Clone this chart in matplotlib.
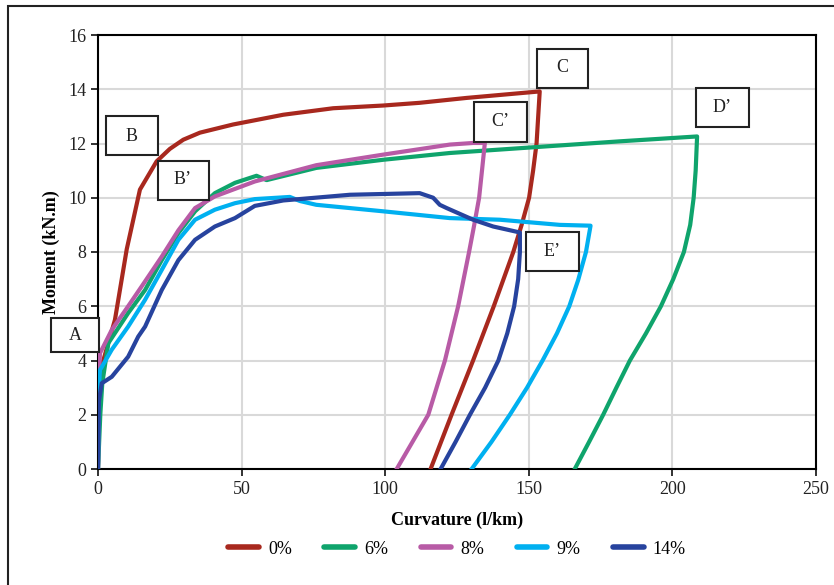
import matplotlib.pyplot as plt
from matplotlib.patches import Rectangle

plt.rcParams['font.family'] = ['Liberation Serif', 'DejaVu Serif']

# moment-curvature curves (curvature 1/km, moment kN.m)
x_0 = [0, 0.5, 1.3, 5.9, 10, 14.6, 20.4, 25, 29.7, 35.5, 47, 64.5, 81.9, 99.3, 112, 128.3, 153.8,
       152.7, 151.5, 150.1, 147.5, 144.6, 137.8, 130.6, 123.1, 115.8]
y_0 = [0, 3.0, 3.8, 5.5, 8.1, 10.3, 11.34, 11.8, 12.14, 12.4, 12.7, 13.06, 13.3, 13.4, 13.5, 13.68, 13.92,
       12.0, 11.0, 10.0, 9.0, 8.0, 6.0, 4.0, 2.0, 0]

x_6 = [0, 0.8, 1.5, 3.6, 10.5, 16.4, 22.2, 28, 33.8, 40.7, 47.7, 54.6, 55.2, 58.7, 76, 99.3, 122.5, 181.7, 208.6,
       208.1, 207.4, 206.2, 204, 200.3, 196, 190.8, 185.2, 180.5, 175.9, 171, 166]
y_6 = [0, 2.0, 3.17, 4.64, 5.75, 6.6, 7.7, 8.7, 9.5, 10.17, 10.55, 10.79, 10.81, 10.65, 11.1, 11.4, 11.65, 12.08, 12.26,
       11.0, 10.0, 9.0, 8.0, 7.0, 6.0, 5.0, 4.0, 3.0, 2.0, 1.0, 0]

x_8 = [0, 0.3, 0.7, 4.8, 10.5, 15.2, 22.2, 28, 33.8, 40.7, 54.6, 76, 99.3, 122.5, 130.6, 134.7,
       133.7, 132.7, 131, 129.2, 125.4, 120.8, 115, 109.5, 104]
y_8 = [0, 3.5, 4.27, 5.13, 6.0, 6.73, 7.83, 8.8, 9.62, 10.05, 10.6, 11.2, 11.59, 11.96, 12.02, 12.02,
       11.0, 10.0, 9.0, 8.0, 6.0, 4.0, 2.0, 1.0, 0]

x_9 = [0, 0.3, 0.7, 4.8, 10.5, 16.4, 22.2, 28, 33.8, 40.7, 47.7, 54.6, 66.8, 70.3, 76, 99.3, 122.5, 139.9, 160.8, 171.5,
       169.9, 167.2, 164.1, 159.8, 154.8, 149.4, 143.4, 137, 130.1]
y_9 = [0, 3.0, 3.65, 4.4, 5.25, 6.24, 7.34, 8.45, 9.19, 9.56, 9.8, 9.95, 10.03, 9.88, 9.74, 9.5, 9.25, 9.19, 9.0, 8.97,
       8.0, 6.97, 6.0, 5.0, 4.0, 3.0, 2.0, 1.0, 0]

x_14 = [0, 0.3, 1.3, 4.8, 10.5, 14, 16.4, 22.2, 28, 33.8, 40.7, 47.7, 54.6, 64.5, 87.7, 112, 116.7, 119, 121.4, 130.6,
        137.6, 146.9, 146.9, 146.3, 144.9, 142.5, 139.4, 134.8, 129.5, 124.5, 119.3]
y_14 = [0, 2.5, 3.16, 3.4, 4.14, 4.88, 5.25, 6.6, 7.7, 8.45, 8.94, 9.25, 9.7, 9.9, 10.11, 10.17, 10.0, 9.74, 9.62, 9.19,
        8.94, 8.72, 8.0, 7.0, 6.0, 5.0, 4.0, 3.0, 2.0, 1.0, 0]

labels = ['0%', '6%', '8%', '9%', '14%']
colors = ['#A8281E', '#0FA46C', '#B85BA6', '#00B0F0', '#27439E']

# boxed point labels: text, centre x, centre y, width, height (pixels)
boxes = [('A', 75, 335, 48, 34), ('B', 132, 136, 52, 39), ('B\u2019', 183, 180, 51, 39),
         ('C', 562, 68, 51, 39), ('C\u2019', 500, 122, 53, 40), ('D\u2019', 722, 107, 53, 39),
         ('E\u2019', 552, 251, 53, 39)]

W, H = 834, 585
fig = plt.figure(figsize=(W / 100, H / 100), dpi=100)
ax = fig.add_axes([98 / W, 1 - 469 / H, (816 - 98) / W, (469 - 35) / H])

for xs, ys, lab, c in zip([x_0, x_6, x_8, x_9, x_14], [y_0, y_6, y_8, y_9, y_14], labels, colors):
    ax.plot(xs, ys, color=c, lw=3, label=lab, solid_joinstyle='round', zorder=3)

ax.set_xlim(0, 250)
ax.set_ylim(0, 16)
ax.set_xticks(range(0, 251, 50))
ax.set_yticks(range(0, 17, 2))
ax.grid(True, color='#d9d9d9', lw=1.5)
ax.set_axisbelow(True)
for s in ax.spines.values():
    s.set_linewidth(1.5)
ax.tick_params(labelsize=13, length=5, width=1.3, colors='#222222')
ax.set_xlabel('Curvature (l/km)', fontsize=13, fontweight='bold', labelpad=10)
ax.set_ylabel('Moment (kN.m)', fontsize=13, fontweight='bold', labelpad=6)

for t, cx, cy, bw, bh in boxes:
    fig.patches.append(Rectangle(((cx - bw / 2) / W, 1 - (cy + bh / 2) / H), bw / W, bh / H,
                                 transform=fig.transFigure, facecolor='white', edgecolor='#222222',
                                 lw=1.5, zorder=5))
    fig.text(cx / W, 1 - cy / H, t, ha='center', va='center', fontsize=13, color='#222222', zorder=6)

# outer frame, cut off at right and bottom
fig.patches.append(Rectangle((8 / W, -0.1), 1.1, 1 - 6 / H + 0.1, transform=fig.transFigure,
                             fill=False, edgecolor='#222222', lw=1.5))

leg = fig.legend(loc='center', bbox_to_anchor=(457 / W, 1 - 549 / H), ncol=5, frameon=False,
                 fontsize=13, handlelength=1.7, columnspacing=1.8, handletextpad=0.5)
for h in leg.legend_handles:
    h.set_linewidth(4)
    h.set_solid_capstyle('round')

fig.savefig('out.png', dpi=100)
